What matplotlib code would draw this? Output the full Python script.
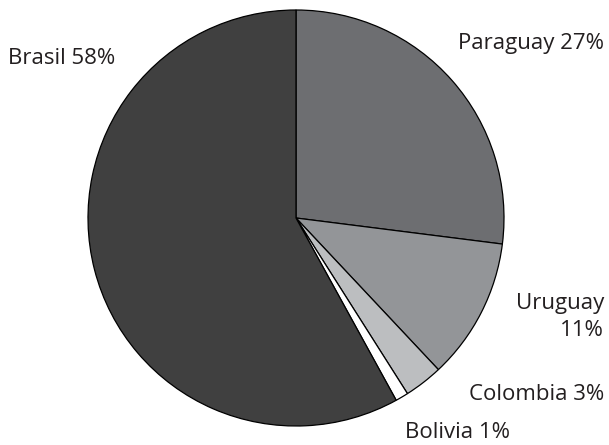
import matplotlib
matplotlib.use("Agg")
import matplotlib.pyplot as plt

COUNTRIES = ["Paraguay", "Uruguay", "Colombia", "Bolivia", "Brasil"]
SHARES = [27, 11, 3, 1, 58]
COLORS = ["#6d6e71", "#939598", "#bcbec0", "#ffffff", "#404040"]

W, H = 609, 445
fig = plt.figure(figsize=(W / 100, H / 100), dpi=100)
# pie centre ~ (296, 218) px, radius ~208 px
ax = fig.add_axes([88 / W, (H - 218 - 208) / H, 416 / W, 416 / H])
ax.pie(SHARES, colors=COLORS, startangle=90, counterclock=False,
       wedgeprops=dict(edgecolor="black", linewidth=0.9))
ax.set_xlim(-1, 1)
ax.set_ylim(-1, 1)
ax.set_aspect("equal")
ax.axis("off")

font = dict(family=["Open Sans", "DejaVu Sans"], fontsize=16, color="#231f20")


def label(x, y, s, ha="left"):
    fig.text(x / W, 1 - y / H, s, ha=ha, va="center", **font)


label(8, 59, "Brasil 58%")
label(604, 44, "Paraguay 27%", ha="right")
label(604, 304, "Uruguay", ha="right")
label(604, 330, "11%", ha="right")
label(604, 394, "Colombia 3%", ha="right")
label(405, 433, "Bolivia 1%")

fig.savefig("out.png", dpi=100)
